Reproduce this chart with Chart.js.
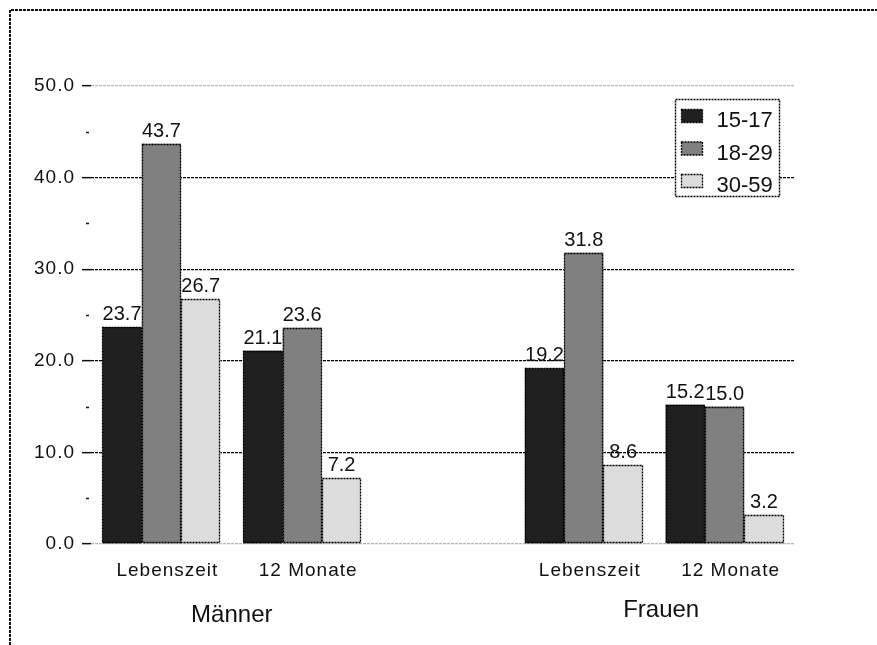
<!DOCTYPE html>
<html>
<head>
<meta charset="utf-8">
<script src="https://cdn.jsdelivr.net/npm/chart.js@4.4.1/dist/chart.umd.min.js"></script>
<style>
  html, body { margin: 0; padding: 0; background: #ffffff; }
  #wrap { width: 877px; height: 645px; }
</style>
</head>
<body>
<div id="wrap"><canvas id="chart" width="877" height="645"></canvas></div>
<script>
// Prevalence by age group (%), empty middle slot separates the two groups
const categories = ['Lebenszeit', '12 Monate', '', 'Lebenszeit', '12 Monate'];
const groupNames = ['Männer', 'Frauen'];
const ageGroups = ['15-17', '18-29', '30-59'];
const age15to17 = [23.7, 21.1, null, 19.2, 15.2];
const age18to29 = [43.7, 23.6, null, 31.8, 15.0];
const age30to59 = [26.7, 7.2, null, 8.6, 3.2];
const yMax = 50;
const yStep = 5;

const FONT = '"Liberation Sans", Arial, Helvetica, sans-serif';
const barColors = ['#202020', '#808080', '#dcdcdc'];
const DASH = [2, 1];

const decor = {
  id: 'decor',
  beforeDraw(chart) {
    const ctx = chart.ctx;
    // slightly wider letter spacing for the axis labels
    ctx.letterSpacing = '1px';
    ctx.save();
    ctx.strokeStyle = '#111';
    ctx.lineWidth = 2;
    ctx.setLineDash([3, 1]);
    ctx.beginPath();
    ctx.moveTo(10, chart.height);
    ctx.lineTo(10, 10);
    ctx.lineTo(chart.width, 10);
    ctx.stroke();
    ctx.restore();
  },
  beforeDatasetsDraw(chart) {
    const ctx = chart.ctx;
    ctx.letterSpacing = '0px';
    // short minor tick marks between the labelled ticks
    const y = chart.scales.y;
    const left = chart.chartArea.left;
    ctx.save();
    ctx.strokeStyle = '#111';
    ctx.lineWidth = 1.5;
    y.ticks.forEach(t => {
      if (t.value % 10 !== 0) {
        const py = Math.round(y.getPixelForValue(t.value)) + 0.5;
        ctx.beginPath();
        ctx.moveTo(left - 5, py);
        ctx.lineTo(left - 2, py);
        ctx.stroke();
      }
    });
    ctx.restore();
  },
  afterDatasetsDraw(chart) {
    const ctx = chart.ctx;
    const area = chart.chartArea;
    ctx.save();
    ctx.letterSpacing = '0px';

    // dashed bar outlines and value labels
    chart.data.datasets.forEach((ds, di) => {
      const meta = chart.getDatasetMeta(di);
      meta.data.forEach((el, i) => {
        const v = ds.data[i];
        if (v === null || v === undefined) return;
        const p = el.getProps(['x', 'y', 'base', 'width'], true);
        const l = Math.round(p.x - p.width / 2) + 0.5;
        const r = Math.round(p.x + p.width / 2) - 0.5;
        const t = Math.round(p.y) + 0.5;
        const b = Math.round(p.base) - 0.5;
        ctx.strokeStyle = '#000';
        ctx.lineWidth = 1.3;
        ctx.setLineDash(DASH);
        ctx.strokeRect(l, t, r - l, b - t);
        ctx.setLineDash([]);
        ctx.fillStyle = '#111';
        ctx.font = '20px ' + FONT;
        ctx.textAlign = 'center';
        ctx.textBaseline = 'alphabetic';
        ctx.fillText(v.toFixed(1), p.x, p.y - 7);
      });
    });

    // legend box
    const bx = area.right - 119.5, by = area.top + 13.5, bw = 104, bh = 97;
    ctx.fillStyle = '#fff';
    ctx.fillRect(bx, by, bw, bh);
    ctx.strokeStyle = '#000';
    ctx.lineWidth = 1.5;
    ctx.setLineDash(DASH);
    ctx.strokeRect(bx, by, bw, bh);
    chart.data.datasets.forEach((ds, di) => {
      const cy = by + 16.5 + di * 32.5;
      ctx.fillStyle = ds.backgroundColor;
      ctx.fillRect(bx + 6, cy - 6.5, 21, 13);
      ctx.lineWidth = 1.3;
      ctx.strokeStyle = '#000';
      ctx.strokeRect(bx + 6, cy - 6.5, 21, 13);
      ctx.fillStyle = '#111';
      ctx.font = '22px ' + FONT;
      ctx.textAlign = 'left';
      ctx.textBaseline = 'alphabetic';
      ctx.fillText(ds.label, bx + 41, cy + 11);
    });
    ctx.setLineDash([]);

    // group titles below the category labels
    const x = chart.scales.x;
    ctx.fillStyle = '#111';
    ctx.font = '24px ' + FONT;
    ctx.textAlign = 'center';
    ctx.textBaseline = 'alphabetic';
    const m = (x.getPixelForValue(0) + x.getPixelForValue(1)) / 2;
    const f = (x.getPixelForValue(3) + x.getPixelForValue(4)) / 2;
    ctx.fillText(groupNames[0], m, area.bottom + 78);
    ctx.fillText(groupNames[1], f + 7, area.bottom + 73);
    ctx.restore();
  }
};

const seriesValues = [age15to17, age18to29, age30to59];

new Chart(document.getElementById('chart'), {
  type: 'bar',
  data: {
    labels: categories,
    datasets: seriesValues.map((vals, i) => ({
      label: ageGroups[i],
      data: vals,
      backgroundColor: barColors[i],
      borderWidth: 0,
      barPercentage: 1.0,
      categoryPercentage: 0.838
    }))
  },
  options: {
    responsive: false,
    animation: false,
    devicePixelRatio: 1,
    layout: { padding: { top: 86, right: 82, left: 0, bottom: 0 } },
    plugins: {
      legend: { display: false },
      tooltip: { enabled: false }
    },
    scales: {
      x: {
        grid: { display: false, drawTicks: false },
        border: { display: false },
        ticks: {
          color: '#111',
          font: { family: FONT, size: 19 },
          padding: 15,
          labelOffset: 6,
          maxRotation: 0,
          autoSkip: false
        },
        afterFit(scale) { scale.height = 101; }
      },
      y: {
        min: 0,
        max: yMax,
        border: { display: false, dash: [3, 1] },
        grid: {
          lineWidth: 1.3,
          tickLength: 9,
          color: c => (c.tick && c.tick.value % 10 !== 0) ? 'rgba(0,0,0,0)'
            : ((c.tick && (c.tick.value === 0 || c.tick.value === yMax)) ? '#b4b4b4' : '#000000'),
          tickColor: c => (c.tick && c.tick.value % 10 !== 0) ? 'rgba(0,0,0,0)' : '#111',
          tickWidth: 1.5
        },
        ticks: {
          stepSize: yStep,
          color: '#111',
          font: { family: FONT, size: 19 },
          padding: 7,
          callback: v => (v % 10 === 0 ? Number(v).toFixed(1) : '')
        },
        afterFit(scale) { scale.width = 91; }
      }
    }
  },
  plugins: [decor]
});
</script>
</body>
</html>
